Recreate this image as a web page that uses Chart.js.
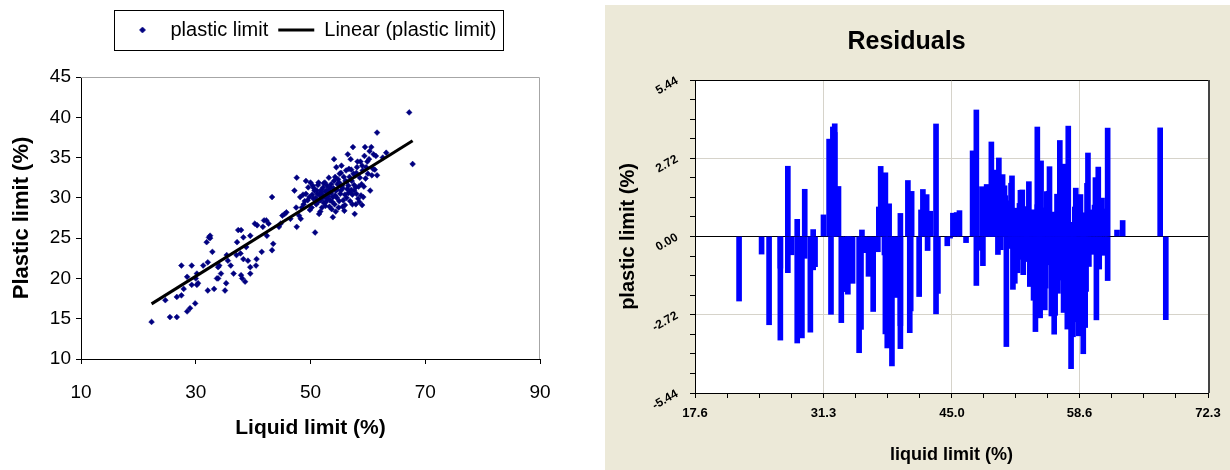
<!DOCTYPE html>
<html>
<head>
<meta charset="utf-8">
<script src="https://cdn.jsdelivr.net/npm/chart.js@4.4.1/dist/chart.umd.min.js"></script>
<style>
  html, body { margin: 0; padding: 0; background: #fff; }
  #left { position: absolute; left: 0; top: 0; width: 600px; height: 470px; }
  #right { position: absolute; left: 605px; top: 5px; width: 625px; height: 465px; background: #ece9d8; }
</style>
</head>
<body>
<div id="left"><canvas id="scatterChart" width="600" height="470"></canvas></div>
<div id="right"><canvas id="residualChart" width="625" height="465"></canvas></div>
<script>
/**** Liquid limit vs plastic limit, with residuals ****/

// [liquid limit, plastic limit]
const samples = [
    [22.3,14.6],[24.7,17.3],[25.5,15.2],[26.7,15.2],[26.7,17.7],[27.5,17.9],[27.5,21.6],[27.9,18.7],
    [28.5,15.9],[29.0,16.3],[28.5,20.2],[29.3,21.6],[29.3,19.2],[29.9,16.9],[30.0,20.0],[30.2,19.2],
    [30.4,19.4],[30.2,20.6],[31.3,21.6],[32.1,18.5],[32.1,22.0],[31.9,24.5],[32.3,25.1],[32.5,25.3],
    [32.5,25.0],[32.9,23.3],[33.2,18.7],[33.7,20.0],[33.9,20.0],[33.9,21.4],[34.1,21.6],[34.4,20.6],
    [35.1,18.5],[35.3,19.4],[35.4,22.9],[35.6,22.2],[36.1,21.6],[36.6,20.6],[37.1,22.9],[37.2,24.5],
    [37.4,26.0],[37.8,23.1],[37.9,26.0],[37.9,20.4],[38.1,20.0],[38.3,22.4],[38.3,25.1],[38.6,19.6],
    [38.8,23.9],[39.1,22.2],[39.5,25.3],[39.5,21.4],[39.5,20.6],[40.3,26.8],[40.5,21.6],[40.6,22.4],
    [40.7,26.6],[41.5,23.3],[41.7,26.4],[41.9,27.2],[42.3,27.2],[42.4,25.3],[42.7,26.8],[43.3,30.1],
    [43.3,23.5],[43.5,24.3],[44.5,26.4],[44.8,26.8],[45.1,27.8],[45.5,28.0],[45.8,28.2],[46.5,27.4],
    [47.2,30.9],[47.5,28.8],[47.6,32.5],[47.6,26.4],[48.0,27.8],[48.2,30.1],[48.3,27.4],[48.5,28.8],
    [48.8,29.2],[49.2,32.1],[49.2,30.5],[49.5,29.7],[49.8,30.1],[50.0,31.9],[50.2,28.8],[50.4,31.5],
    [50.7,30.9],[50.8,25.7],[51.0,29.2],[51.2,30.5],[51.4,31.9],[51.5,28.0],[51.7,29.7],[51.8,30.7],
    [52.0,28.8],[52.2,31.3],[52.4,30.1],[52.5,31.9],[52.7,29.5],[52.8,30.9],[53.0,30.5],[53.2,32.5],
    [53.4,29.7],[53.5,31.3],[53.7,28.6],[53.9,30.1],[54.1,34.8],[54.1,32.1],[54.2,29.2],[54.4,30.9],
    [54.5,33.8],[54.7,31.7],[54.9,28.8],[55.1,33.0],[55.2,30.5],[55.4,34.0],[55.5,31.5],[55.7,29.7],
    [55.9,28.4],[56.1,32.1],[56.2,33.4],[56.4,31.1],[56.5,35.4],[56.7,33.6],[56.9,30.7],[57.0,34.8],
    [57.2,32.1],[57.3,29.2],[57.4,36.3],[57.5,33.0],[57.7,28.0],[57.9,31.3],[58.1,33.8],[58.2,34.5],
    [58.3,29.9],[58.5,29.5],[58.7,34.5],[58.9,31.7],[59.1,33.4],[59.2,30.1],[59.4,35.2],[59.5,36.3],
    [59.7,33.8],[59.9,34.5],[60.2,34.8],[60.4,30.9],[60.6,36.3],[60.7,32.8],[60.9,33.6],[61.0,35.4],
    [61.4,35.2],[61.6,38.1],[61.6,32.8],[62.6,35.0],[63.2,35.6],[67.2,40.6],[67.8,34.2],
    // the dense cluster
    [50.3,30.4],[50.5,29.9],[50.6,31.2],[50.9,30.0],[51.1,30.9],[51.3,29.5],[51.3,31.6],[51.6,30.3],
    [51.9,29.9],[51.9,31.0],[52.1,30.4],[52.3,29.4],[52.3,31.8],[52.6,30.8],[52.6,29.0],[52.9,31.5],
    [52.9,29.9],[53.1,30.2],[53.2,31.0],[53.3,28.9],[53.6,30.6],[53.6,31.7],[53.8,29.5],[53.9,27.6],
    [54.0,31.2],[54.3,30.3],[54.3,32.6],[54.6,30.0],[54.6,31.0],[54.8,32.3],[55.0,29.6],[55.0,31.9],
    [55.3,30.9],[55.3,33.1],[55.6,31.2],[55.8,32.6],[56.0,29.1],[56.0,30.4],[56.3,32.0],[56.3,30.0],
    [56.6,31.5],[56.6,30.6],[56.8,32.6],[56.9,29.6],[57.1,31.0],[57.1,33.5],[57.3,30.4],[57.6,31.6],
    [57.6,30.9],[57.8,32.8],[58.0,30.5],[58.0,33.1],[58.4,31.4],[58.6,32.5],[58.8,30.3],[59.0,34.0],
    [59.3,31.4],[59.6,32.4],[60.0,33.0],[60.3,35.8],[61.2,33.5],[49.6,31.3],[49.0,29.6],[48.7,30.4],
    [49.9,28.5],[51.7,28.3],[54.4,28.3],[55.6,28.9],[57.9,29.2],[59.0,29.1]
];

// Excel linear trendline (plastic = slope * liquid + intercept)
const trendSlope = 0.445;
const trendIntercept = 6.92;

// residual chart tick labels
const resXTicks = [17.6, 31.3, 45.0, 58.6, 72.3];
const resYTicks = [-5.44, -2.72, 0.00, 2.72, 5.44];

Chart.defaults.font.family = 'Arial, "Liberation Sans", sans-serif';
Chart.defaults.color = '#000';

const xs = samples.map(p => p[0]);
const xMin = Math.min(...xs), xMax = Math.max(...xs);
const fitAt = x => trendIntercept + trendSlope * x;

const points = samples.map(([x, y]) => ({ x: x, y: y }));
const trendLine = [{ x: xMin, y: fitAt(xMin) }, { x: xMax, y: fitAt(xMax) }];
const residuals = samples.map(([x, y]) => ({ x: x, y: y - fitAt(x) }));

// small marker for the legend, drawn with Chart.js's own point helper
const legendDot = document.createElement('canvas');
legendDot.width = 8;
legendDot.height = 8;
(function () {
    const c = legendDot.getContext('2d');
    c.fillStyle = '#000080';
    c.strokeStyle = '#000080';
    Chart.helpers.drawPoint(c, { pointStyle: 'rectRot', radius: 2.8, borderWidth: 0.5 }, 4, 4);
})();

// leave room between legend and plot
const legendGap = {
    id: 'legendGap',
    afterInit(chart) {
        const legend = chart.legend;
        const fit = legend.fit;
        legend.fit = function () { fit.call(this); this.height += 27; };
    }
};

// box around the legend items
const legendFrame = {
    id: 'legendFrame',
    afterDraw(chart) {
        const boxes = chart.legend.legendHitBoxes;
        if (!boxes || !boxes.length) return;
        let l = Infinity, r = -Infinity, t = Infinity, b = -Infinity;
        boxes.forEach(h => {
            l = Math.min(l, h.left); r = Math.max(r, h.left + h.width);
            t = Math.min(t, h.top); b = Math.max(b, h.top + h.height);
        });
        const ctx = chart.ctx;
        ctx.save();
        ctx.strokeStyle = '#000';
        ctx.lineWidth = 1;
        ctx.strokeRect(Math.round(l - 10) + 0.5, Math.round(t - 10) + 0.5, Math.round(r - l + 17), Math.round(b - t + 20));
        ctx.restore();
    }
};

// grey top and right edges of the plot area
const plotFrame = {
    id: 'plotFrame',
    beforeDatasetsDraw(chart) {
        const { ctx, chartArea: a } = chart;
        ctx.save();
        ctx.strokeStyle = '#a6a6a6';
        ctx.lineWidth = 1;
        ctx.beginPath();
        ctx.moveTo(a.left, Math.round(a.top) + 0.5);
        ctx.lineTo(Math.round(a.right) - 0.5, Math.round(a.top) + 0.5);
        ctx.lineTo(Math.round(a.right) - 0.5, a.bottom);
        ctx.stroke();
        ctx.restore();
    }
};

const scatterChart = new Chart(document.getElementById('scatterChart'), {
    type: 'scatter',
    data: {
        datasets: [{
            label: 'plastic limit',
            data: points,
            pointStyle: 'rectRot',
            pointRadius: 2.9,
            pointHoverRadius: 2.9,
            backgroundColor: '#000080',
            borderColor: '#000080',
            borderWidth: 0.5,
            order: 1
        }, {
            type: 'line',
            label: 'Linear (plastic limit)',
            data: trendLine,
            borderColor: '#000',
            borderWidth: 3,
            pointRadius: 0,
            pointStyle: 'line',
            pointBorderColor: '#000',
            pointBorderWidth: 3,
            fill: false,
            order: 0
        }]
    },
    options: {
        responsive: false,
        animation: false,
        layout: { padding: { top: 10, right: 60, left: 0, bottom: 0 } },
        plugins: {
            legend: {
                fullSize: false,
                labels: {
                    font: { size: 20 },
                    color: '#000',
                    usePointStyle: true,
                    boxHeight: 5,
                    pointStyleWidth: 36,
                    padding: 10,
                    generateLabels: chart => {
                        const items = Chart.defaults.plugins.legend.labels.generateLabels(chart);
                        items.forEach(it => { if (it.datasetIndex === 0) it.pointStyle = legendDot; });
                        return items;
                    },
                    sort: (a, b) => a.datasetIndex - b.datasetIndex
                }
            },
            tooltip: { enabled: false }
        },
        scales: {
            x: {
                type: 'linear',
                min: 10, max: 90,
                ticks: { stepSize: 20, font: { size: 19 }, padding: 17, color: '#000' },
                grid: { drawOnChartArea: false, color: '#000', tickLength: 5 },
                border: { color: '#000' },
                title: { display: true, text: 'Liquid limit (%)', font: { size: 21, weight: 'bold' }, padding: { top: 0, bottom: 29 } },
                afterFit: s => { s.height = 111; }
            },
            y: {
                min: 10, max: 45,
                ticks: { stepSize: 5, font: { size: 19 }, padding: 5, color: '#000' },
                grid: { drawOnChartArea: false, color: '#000', tickLength: 5 },
                border: { color: '#000' },
                title: { display: true, text: 'Plastic limit (%)', font: { size: 22, weight: 'bold' }, padding: { top: 9, bottom: 0 } },
                afterFit: s => { s.width = 81; }
            }
        }
    },
    plugins: [legendGap, legendFrame, plotFrame]
});

//**** Residuals panel
const plotBack = {
    id: 'plotBack',
    beforeDraw(chart) {
        const { ctx, chartArea: a } = chart;
        ctx.save();
        ctx.fillStyle = '#fff';
        ctx.fillRect(a.left, a.top, a.right - a.left, a.bottom - a.top);
        ctx.restore();
    },
    afterDatasetsDraw(chart) {
        const { ctx, chartArea: a } = chart;
        ctx.save();
        ctx.lineWidth = 1;
        ctx.strokeStyle = '#000';
        ctx.beginPath();
        ctx.moveTo(a.left, Math.round(a.top) + 0.5);
        ctx.lineTo(a.right, Math.round(a.top) + 0.5);
        ctx.stroke();
        ctx.strokeStyle = '#444';
        ctx.lineWidth = 2;
        ctx.beginPath();
        ctx.moveTo(Math.round(a.right) + 1, a.top);
        ctx.lineTo(Math.round(a.right) + 1, a.bottom);
        ctx.stroke();
        ctx.restore();
    }
};

const gridGrey = '#d6d3ca';

const residualChart = new Chart(document.getElementById('residualChart'), {
    type: 'bar',
    data: {
        datasets: [{
            label: 'residuals',
            data: residuals,
            backgroundColor: '#0000ff',
            borderWidth: 0,
            barThickness: 5
        }]
    },
    options: {
        responsive: false,
        animation: false,
        layout: { padding: { top: 0, right: 22, left: 0, bottom: 0 } },
        plugins: {
            legend: { display: false },
            tooltip: { enabled: false },
            title: {
                display: true,
                text: 'Residuals',
                color: '#000',
                font: { family: '"Liberation Sans Narrow", "Arial Narrow", Arial, sans-serif', size: 25, weight: 'bold' },
                padding: { top: 22, bottom: 23 }
            }
        },
        scales: {
            x: {
                type: 'linear',
                min: resXTicks[0], max: resXTicks[resXTicks.length - 1],
                offset: false,
                afterBuildTicks: s => {
                    const t = [];
                    for (let i = 0; i < resXTicks.length - 1; i++) {
                        for (let k = 0; k < 4; k++) {
                            t.push({ value: resXTicks[i] + (resXTicks[i + 1] - resXTicks[i]) * k / 4 });
                        }
                    }
                    t.push({ value: resXTicks[resXTicks.length - 1] });
                    s.ticks = t;
                },
                ticks: {
                    autoSkip: false, maxRotation: 0,
                    font: { size: 13, weight: 'bold' }, padding: 8, color: '#000',
                    callback: (v, i) => (i % 4 === 0 ? resXTicks[i / 4].toFixed(1) : '')
                },
                grid: {
                    offset: false,
                    color: c => (c.index % 4 === 0 && c.index > 0 && c.index < 16 ? gridGrey : 'rgba(0,0,0,0)'),
                    tickColor: '#000',
                    tickLength: 5
                },
                border: { color: '#000' },
                title: { display: true, text: 'liquid limit (%)', font: { size: 18, weight: 'bold' }, padding: { top: 0, bottom: 4 } },
                afterFit: s => { s.height = 77; }
            },
            y: {
                min: resYTicks[0], max: resYTicks[resYTicks.length - 1],
                ticks: {
                    stepSize: 0.68, autoSkip: false,
                    minRotation: 30, maxRotation: 30,
                    font: { size: 12, weight: 'bold' }, padding: 13, color: '#000',
                    callback: (v, i) => (i % 4 === 0 ? resYTicks[i / 4].toFixed(2) : '')
                },
                grid: {
                    color: c => (c.index === 8 ? '#000' : (c.index === 4 || c.index === 12 ? gridGrey : 'rgba(0,0,0,0)')),
                    tickColor: '#000',
                    tickLength: 5
                },
                border: { color: '#000' },
                title: { display: true, text: 'plastic limit (%)', font: { size: 20, weight: 'bold' }, padding: { top: 11, bottom: 0 } },
                afterFit: s => { s.width = 90; }
            }
        }
    },
    plugins: [plotBack]
});
</script>
</body>
</html>
